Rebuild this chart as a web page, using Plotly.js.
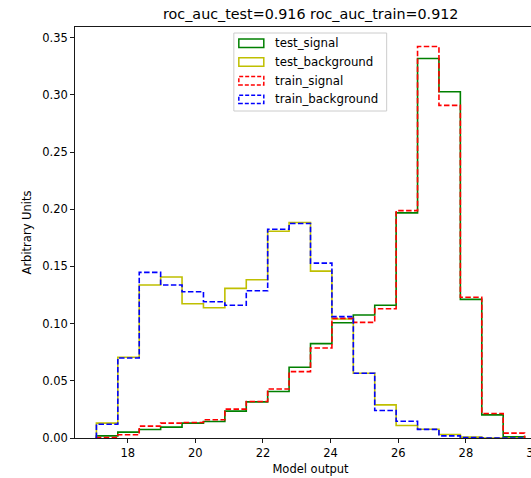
<!DOCTYPE html>
<html>
<head>
<meta charset="utf-8">
<script src="https://cdn.plot.ly/plotly-3.0.1.min.js"></script>
<style>
  html, body { margin: 0; padding: 0; overflow: hidden; background: #fff; }
  #chart { width: 560px; height: 478px; }
</style>
</head>
<body>
<div id="chart"></div>
<script>
// Bin edges of the model-output histogram (20 bins)
const binEdges = [17.075, 17.708, 18.341, 18.974, 19.607, 20.240, 20.873, 21.506,
                  22.139, 22.772, 23.405, 24.038, 24.671, 25.304, 25.937, 26.570,
                  27.203, 27.836, 28.469, 29.102, 29.735];

// Normalised bin contents per sample
const testSignal = [0.0019, 0.0051, 0.0074, 0.0095, 0.0130, 0.0144, 0.0235, 0.0316, 0.0406, 0.0618,
                    0.0825, 0.1008, 0.1075, 0.1160, 0.1968, 0.3318, 0.3027, 0.1212, 0.0202, 0.0010];
const testBackground = [0.0130, 0.0706, 0.1337, 0.1407, 0.1174, 0.1139, 0.1308, 0.1383, 0.1808, 0.1884,
                        0.1459, 0.1040, 0.0566, 0.0290, 0.0109, 0.0077, 0.0030, 0.0008, 0.0000, 0.0000];
const trainSignal = [0.0005, 0.0028, 0.0104, 0.0130, 0.0135, 0.0159, 0.0252, 0.0319, 0.0429, 0.0580,
                     0.0787, 0.1046, 0.1011, 0.1130, 0.1988, 0.3422, 0.2908, 0.1230, 0.0214, 0.0043];
const trainBackground = [0.0120, 0.0700, 0.1448, 0.1337, 0.1279, 0.1191, 0.1160, 0.1287, 0.1825, 0.1875,
                         0.1529, 0.1061, 0.0566, 0.0240, 0.0147, 0.0075, 0.0019, 0.0003, 0.0000, 0.0000];

const seriesNames = ['test_signal', 'test_background', 'train_signal', 'train_background'];
const rocAucTest = 0.916;
const rocAucTrain = 0.912;

// Outline of a step histogram: rise from zero at the first edge, fall back at the last
function stepOutline(edges, values) {
  const x = [edges[0]];
  const y = [0];
  for (let i = 0; i < values.length; i++) { x.push(edges[i]); y.push(values[i]); }
  x.push(edges[edges.length - 1]); y.push(values[values.length - 1]);
  x.push(edges[edges.length - 1]); y.push(0);
  return { x, y };
}

const styles = [
  { color: '#008000', dash: 'solid' },
  { color: '#bfbf00', dash: 'solid' },
  { color: '#ff0000', dash: '5.5px,2.4px' },
  { color: '#0000ff', dash: '5.5px,2.4px' }
];
const allValues = [testSignal, testBackground, trainSignal, trainBackground];

const traces = allValues.map((vals, k) => {
  const o = stepOutline(binEdges, vals);
  return {
    type: 'scatter', mode: 'lines', x: o.x, y: o.y,
    name: seriesNames[k], line: { shape: 'hv', color: styles[k].color, width: 1.6, dash: styles[k].dash },
    hoverinfo: 'skip'
  };
});

// Plot-area geometry in pixels
const W = 560, H = 478;
const M = { l: 75, r: 13.5, t: 27, b: 40 };
const plotW = W - M.l - M.r, plotH = H - M.t - M.b;
const px = v => (v - M.l) / plotW;           // page x -> paper x
const py = v => (H - M.b - v) / plotH;        // page y -> paper y

// Legend drawn as outlined patches with labels
const shapes = [];
const annotations = [];
shapes.push({
  type: 'rect', xref: 'paper', yref: 'paper',
  x0: px(234), x1: px(387), y0: py(111), y1: py(33),
  line: { color: '#cccccc', width: 1 }, fillcolor: 'rgba(255,255,255,0.8)', layer: 'above'
});
seriesNames.forEach((name, k) => {
  const cy = 43.3 + k * 18.7;
  shapes.push({
    type: 'rect', xref: 'paper', yref: 'paper',
    x0: px(239), x1: px(264), y0: py(cy + 4.2), y1: py(cy - 4.2),
    line: { color: styles[k].color, width: 1.5, dash: styles[k].dash === 'solid' ? 'solid' : '4px,2px' },
    fillcolor: 'rgba(0,0,0,0)', layer: 'above'
  });
  annotations.push({
    xref: 'paper', yref: 'paper', x: px(273), y: py(cy), xanchor: 'left', yanchor: 'middle',
    text: name, showarrow: false, font: { family: 'DejaVu Sans', size: 11.8, color: '#000' }
  });
});

const layout = {
  width: W, height: H,
  margin: M,
  paper_bgcolor: '#fff', plot_bgcolor: '#fff',
  showlegend: false,
  font: { family: 'DejaVu Sans', size: 11.5, color: '#000' },
  title: {
    text: 'roc_auc_test=' + rocAucTest.toFixed(3) + ' roc_auc_train=' + rocAucTrain.toFixed(3),
    font: { family: 'DejaVu Sans', size: 14.3, color: '#000' },
    x: (M.l + plotW / 2) / W, xanchor: 'center', y: 1 - 14 / H, yanchor: 'middle'
  },
  xaxis: {
    range: [16.442, 30.368], tickmode: 'linear', tick0: 18, dtick: 2,
    showgrid: false, zeroline: false, showline: true, mirror: true, linecolor: '#000', linewidth: 0.9,
    ticks: 'outside', ticklen: 4, tickwidth: 0.9, tickcolor: '#000',
    tickfont: { family: 'DejaVu Sans', size: 11.5 },
    title: { text: 'Model output', font: { family: 'DejaVu Sans', size: 11.5 }, standoff: 6 }
  },
  yaxis: {
    range: [0, 0.3593], tickmode: 'linear', tick0: 0, dtick: 0.05, tickformat: '.2f',
    showgrid: false, zeroline: false, showline: true, mirror: true, linecolor: '#000', linewidth: 0.9,
    ticks: 'outside', ticklen: 4, tickwidth: 0.9, tickcolor: '#000',
    tickfont: { family: 'DejaVu Sans', size: 11.5 },
    title: { text: 'Arbitrary Units', font: { family: 'DejaVu Sans', size: 11.5 }, standoff: 8 }
  },
  shapes, annotations
};

Plotly.newPlot('chart', traces, layout, { displayModeBar: false, staticPlot: true });
</script>
</body>
</html>
